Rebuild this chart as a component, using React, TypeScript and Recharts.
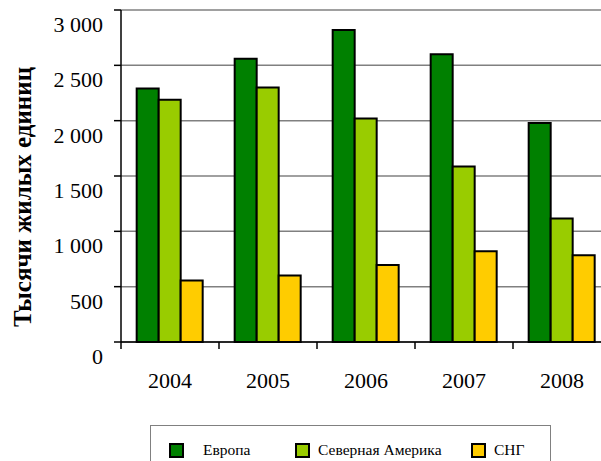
import { BarChart, Bar, XAxis, YAxis, CartesianGrid } from "recharts";

const years = ["2004", "2005", "2006", "2007", "2008"];
const europe = [2290, 2560, 2820, 2600, 1980];
const northAmerica = [2190, 2300, 2020, 1585, 1115];
const cis = [555, 600, 695, 820, 785];
const yTicks = [0, 500, 1000, 1500, 2000, 2500, 3000];

const series = [
  { key: "europe", name: "Европа", color: "#008000" },
  { key: "northAmerica", name: "Северная Америка", color: "#99CC00" },
  { key: "cis", name: "СНГ", color: "#FFCC00" },
];

const data = years.map((year, i) => ({
  year,
  europe: europe[i],
  northAmerica: northAmerica[i],
  cis: cis[i],
}));

const FONT = "Liberation Serif";

const fmt = (v: number) => String(v).replace(/\B(?=(\d{3})+(?!\d))/g, " ");

function YTick({ x, y, payload }: any) {
  return (
    <text x={x} y={y + 22} textAnchor="end" fontSize={22} fontFamily={FONT} fill="#000">
      {fmt(payload.value)}
    </text>
  );
}

// year label plus a short tick on the left edge of each category
function XTick({ x, y, payload, width, visibleTicksCount }: any) {
  const half = payload.offset || width / visibleTicksCount / 2;
  return (
    <g>
      <line x1={x - half} x2={x - half} y1={y - 7} y2={y} stroke="#000" strokeWidth={1.5} />
      <text x={x} y={y + 39} textAnchor="middle" fontSize={22} fontFamily={FONT} fill="#000">
        {payload.value}
      </text>
    </g>
  );
}

function AxisTitle({ viewBox }: any) {
  const cx = viewBox.x + 22;
  const cy = viewBox.y + viewBox.height / 2 + 21;
  return (
    <text
      x={cx}
      y={cy}
      transform={`rotate(-90, ${cx}, ${cy})`}
      textAnchor="middle"
      dominantBaseline="central"
      fontSize={25}
      fontWeight="bold"
      fontFamily={FONT}
      fill="#000"
    >
      Тысячи жилых единиц
    </text>
  );
}

export default function App() {
  return (
    <div
      style={{
        position: "absolute",
        left: 0,
        top: 0,
        width: 601,
        height: 461,
        overflow: "hidden",
        background: "#fff",
        fontFamily: FONT,
      }}
    >
      <BarChart
        width={620}
        height={461}
        data={data}
        margin={{ top: 10, right: 9, left: 0, bottom: 0 }}
        barCategoryGap="16%"
        barGap={0}
      >
        <CartesianGrid vertical={false} stroke="#808080" strokeWidth={1.5} />
        <XAxis
          dataKey="year"
          height={119}
          tickLine={false}
          tickSize={0}
          tickMargin={7}
          axisLine={{ stroke: "#000", strokeWidth: 1.5 }}
          tick={<XTick />}
          interval={0}
        />
        <YAxis
          width={121}
          domain={[0, 3000]}
          ticks={yTicks}
          tickSize={7}
          tickMargin={11}
          tickLine={{ stroke: "#000", strokeWidth: 1.5 }}
          axisLine={{ stroke: "#000", strokeWidth: 1.5 }}
          tick={<YTick />}
          label={{ content: (p: any) => <AxisTitle {...p} /> }}
        />
        {series.map((s) => (
          <Bar
            key={s.key}
            dataKey={s.key}
            name={s.name}
            fill={s.color}
            stroke="#000"
            strokeWidth={2}
            isAnimationActive={false}
          />
        ))}
      </BarChart>
      <div
        style={{
          position: "absolute",
          left: 150,
          top: 425,
          width: 399,
          height: 50,
          border: "1.5px solid #808080",
          fontSize: 15.5,
        }}
      >
        {series.map((s, i) => (
          <div
            key={s.key}
            style={{
              position: "absolute",
              top: 15,
              left: [18, 144, 320][i],
              display: "flex",
              alignItems: "center",
            }}
          >
            <span
              style={{
                display: "inline-block",
                width: 11,
                height: 11,
                background: s.color,
                border: "2px solid #000",
                marginRight: [19, 8, 8][i],
              }}
            />
            <span>{s.name}</span>
          </div>
        ))}
      </div>
    </div>
  );
}
